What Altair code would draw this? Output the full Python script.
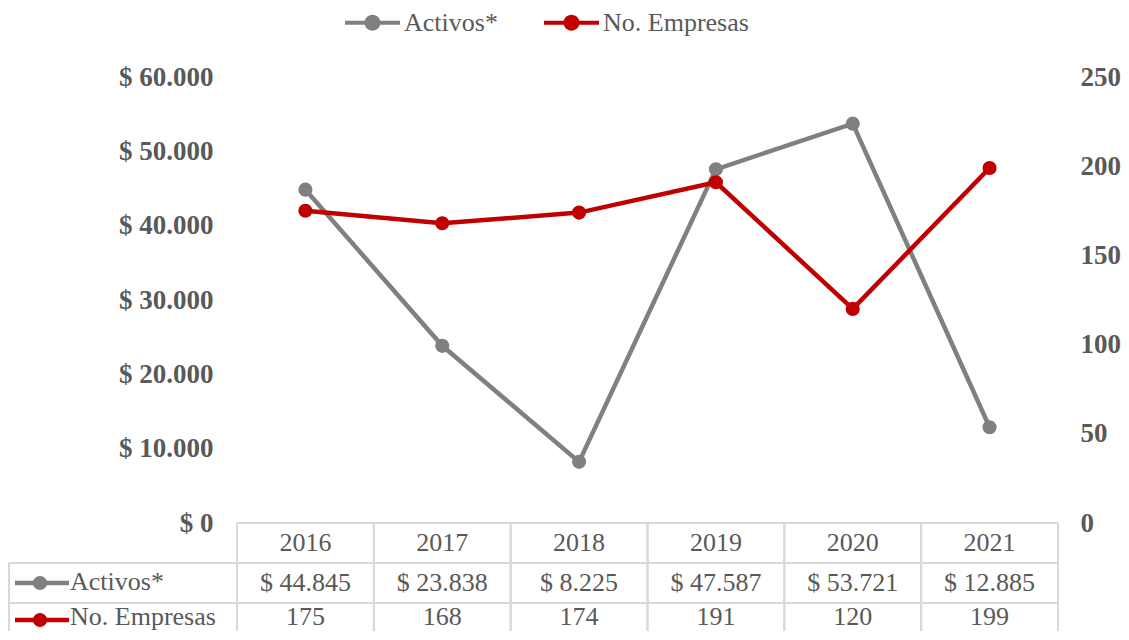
import altair as alt
import pandas as pd

years = ["2016", "2017", "2018", "2019", "2020", "2021"]
activos = [44845, 23838, 8225, 47587, 53721, 12885]
empresas = [175, 168, 174, 191, 120, 199]
series_names = ["Activos*", "No. Empresas"]
series_colors = ["#808080", "#C00000"]
left_ticks = [0, 10000, 20000, 30000, 40000, 50000, 60000]
right_ticks = [0, 50, 100, 150, 200, 250]

W, H = 821, 446
FONT = "Liberation Serif"
TXT = "#595959"
GRIDC = "#D9D9D9"

rows = []
for y, a, e in zip(years, activos, empresas):
    rows.append({"year": y, "serie": series_names[0], "valor": a,
                 "label": "$ " + f"{a:,}".replace(",", ".")})
    rows.append({"year": y, "serie": series_names[1], "valor": e,
                 "label": str(e)})
df = pd.DataFrame(rows)
df_years = pd.DataFrame({"year": years})
df_series = pd.DataFrame({"serie": series_names})

xscale = alt.Scale(type="band", paddingInner=0, paddingOuter=0, domain=years)
xenc = alt.X("year:O", scale=xscale, axis=None, bandPosition=0.5)

SYM = ("M-1,-0.075H1V0.075H-1Z "
       "M0.29,0A0.29,0.29,0,1,1,-0.29,0A0.29,0.29,0,1,1,0.29,0Z")

legend = alt.Legend(title=None, orient="none", direction="horizontal",
                    legendX=108, legendY=-82, symbolType=SYM, symbolSize=3025,
                    symbolStrokeWidth=0, symbolOpacity=1,
                    labelFont=FONT, labelFontSize=26, labelColor=TXT,
                    labelOffset=4, columnPadding=46, padding=0,
                    labelLimit=400)
color = alt.Color("serie:N", scale=alt.Scale(domain=series_names, range=series_colors),
                  legend=legend)

axis_style = dict(title=None, labelFont=FONT, labelFontSize=27, labelFontWeight="bold",
                  labelColor=TXT, domain=False, ticks=False, grid=False)

base = alt.Chart(df)

yA = alt.Y("valor:Q", scale=alt.Scale(domain=[0, 60000]),
           axis=alt.Axis(orient="left", values=left_ticks, labelPadding=24,
                         labelExpr="'$ ' + replace(format(datum.value, ','), ',', '.')",
                         **axis_style))
yB = alt.Y("valor:Q", scale=alt.Scale(domain=[0, 250]),
           axis=alt.Axis(orient="right", values=right_ticks, labelPadding=22,
                         **axis_style))

fa = alt.datum.serie == series_names[0]
fb = alt.datum.serie == series_names[1]

left = alt.layer(
    base.transform_filter(fa).mark_line(strokeWidth=4.5).encode(x=xenc, y=yA, color=color),
    base.transform_filter(fa).mark_point(filled=True, size=200, opacity=1).encode(x=xenc, y=yA, color=color),
)
right = alt.layer(
    base.transform_filter(fb).mark_line(strokeWidth=4.5).encode(x=xenc, y=yB, color=color),
    base.transform_filter(fb).mark_point(filled=True, size=200, opacity=1).encode(x=xenc, y=yB, color=color),
)

# data table
txt = dict(font=FONT, fontSize=26, color=TXT)
header = alt.Chart(df_years).mark_text(**txt).encode(
    x=xenc, y=alt.value(466), text="year:N")
rowA = base.transform_filter(fa).mark_text(**txt).encode(
    x=xenc, y=alt.value(506), text="label:N")
rowB = base.transform_filter(fb).mark_text(**txt).encode(
    x=xenc, y=alt.value(540), text="label:N")

lab_layers = []
for name, yy, ty in zip(series_names, [506, 543], [505, 540]):
    d = alt.Chart(df_series).transform_filter(alt.datum.serie == name)
    lab_layers.append(d.mark_rule(strokeWidth=4.5).encode(
        x=alt.value(-222), x2=alt.value(-168), y=alt.value(yy), color=color))
    lab_layers.append(d.mark_point(filled=True, size=200, opacity=1).encode(
        x=alt.value(-197), y=alt.value(yy), color=color))
    lab_layers.append(d.mark_text(align="left", **txt).encode(
        x=alt.value(-167), y=alt.value(ty), text="serie:N"))

grid = []
for bp in [0, 1]:
    grid.append(alt.Chart(df_years).mark_rule(color=GRIDC, strokeWidth=2).encode(
        x=alt.X("year:O", scale=xscale, axis=None, bandPosition=bp),
        y=alt.value(446), y2=alt.value(570)))
one = pd.DataFrame({"k": [0]})
grid.append(alt.Chart(one).mark_rule(color=GRIDC, strokeWidth=2).encode(
    x=alt.value(-228), y=alt.value(486), y2=alt.value(570)))
for x0, yy in [(0, 446), (-228, 486), (-228, 526)]:
    grid.append(alt.Chart(one).mark_rule(color=GRIDC, strokeWidth=2).encode(
        x=alt.value(x0), x2=alt.value(W), y=alt.value(yy)))

chart = alt.layer(
    *grid, header, rowA, rowB, *lab_layers, left, right
).resolve_scale(y="independent").properties(
    width=W, height=H,
    autosize=alt.AutoSizeParams(type="none"),
    padding={"left": 229, "top": 69, "right": 63, "bottom": 108},
    background="white",
).configure_view(stroke=None)

chart.save("out.html", embed_options={"renderer": "svg", "actions": False})
